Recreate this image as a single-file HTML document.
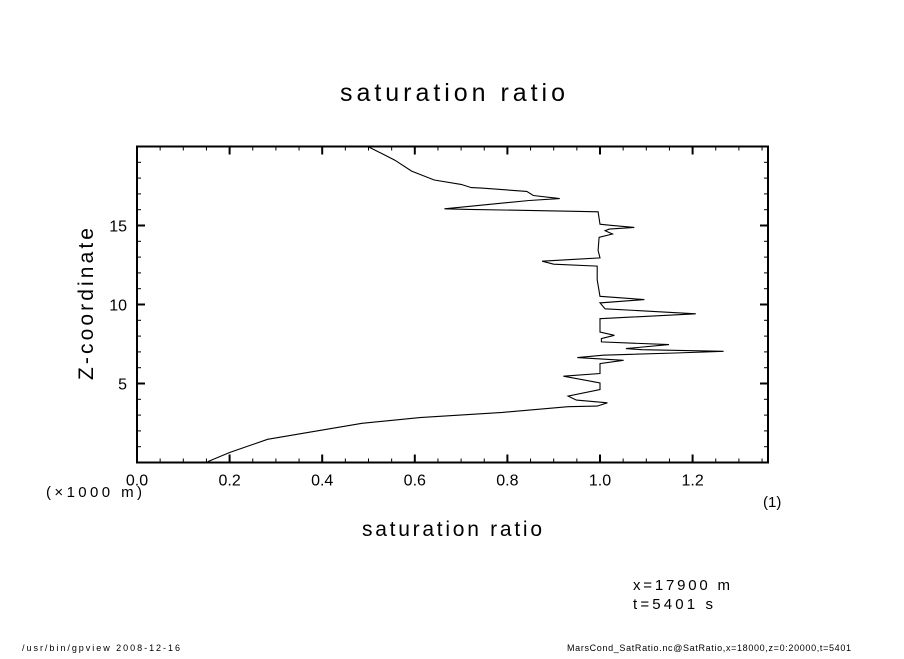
<!DOCTYPE html>
<html><head><meta charset="utf-8"><style>
body{margin:0;background:#fff;}
svg text{font-family:"Liberation Sans",sans-serif;fill:#000;}
</style></head><body>
<svg id="chart" width="904" height="654" viewBox="0 0 904 654" xmlns="http://www.w3.org/2000/svg">
<rect width="904" height="654" fill="#fff"/>
<text x="340" y="101" font-size="25" textLength="225" lengthAdjust="spacing">saturation ratio</text>
<g id="axes"></g>
<polyline id="profile" fill="none" stroke="#000" stroke-width="1.1"/>
<rect x="137" y="146.5" width="631" height="316" fill="none" stroke="#000" stroke-width="2"/>
<text x="362" y="536" font-size="21" textLength="180" lengthAdjust="spacing">saturation ratio</text>
<text transform="translate(93,380) rotate(-90)" font-size="21" textLength="152" lengthAdjust="spacing">Z-coordinate</text>
<text x="46" y="497" font-size="15" textLength="96" lengthAdjust="spacing">(×1000 m)</text>
<text x="763" y="507" font-size="15">(1)</text>
<text x="633" y="590" font-size="15" textLength="97" lengthAdjust="spacing">x=17900  m</text>
<text x="633" y="609" font-size="15" textLength="80" lengthAdjust="spacing">t=5401  s</text>
<text x="22" y="651" font-size="9" textLength="158" lengthAdjust="spacing">/usr/bin/gpview   2008-12-16</text>
<text x="567" y="651" font-size="9" textLength="284" lengthAdjust="spacing">MarsCond_SatRatio.nc@SatRatio,x=18000,z=0:20000,t=5401</text>
</svg>
<script>
const xTicks=[0,0.2,0.4,0.6,0.8,1.0,1.2];
const xTickLabels=["0.0","0.2","0.4","0.6","0.8","1.0","1.2"];
const yTicks=[5,10,15];
const yTickLabels=["5","10","15"];
const ratio=[0.501,0.522,0.557,0.593,0.642,0.70,0.722,0.744,0.842,0.856,0.913,0.847,0.664,0.718,0.945,0.996,1.0,1.02,1.074,1.02,1.011,1.027,0.998,0.996,1.0,0.936,0.875,0.9,0.994,0.994,1.0,1.096,1.0,1.011,1.207,1.0,1.0,1.031,1.003,1.003,1.149,1.056,1.091,1.267,1.163,1.007,0.951,1.051,1.0,1.0,0.921,1.0,1.0,0.931,0.949,1.016,0.994,0.931,0.789,0.611,0.486,0.379,0.282,0.2,0.153];
const height=[19.96,19.65,19.13,18.44,17.88,17.6,17.4,17.37,17.16,16.9,16.7,16.58,16.06,16.02,15.9,15.87,15.08,15.02,14.88,14.77,14.67,14.46,14.25,13.42,12.95,12.84,12.74,12.55,12.43,11.56,10.52,10.31,10.1,9.73,9.41,9.1,8.26,8.05,7.84,7.63,7.46,7.21,7.14,7.04,6.93,6.79,6.64,6.47,6.26,5.63,5.46,5.04,4.62,4.2,3.95,3.78,3.57,3.53,3.17,2.84,2.48,1.95,1.47,0.63,0.06];
const X0=137,X1=768,Y0=462.5,Y1=146.5,XMAX=(X1-X0)/463,ZMAX=20;
function sx(v){return X0+v/XMAX*(X1-X0);}
function sy(v){return Y0-v/ZMAX*(Y0-Y1);}
const NS="http://www.w3.org/2000/svg";
const g=document.getElementById('axes');
function line(x1,y1,x2,y2,w,name){const l=document.createElementNS(NS,'line');
l.setAttribute('x1',x1);l.setAttribute('y1',y1);l.setAttribute('x2',x2);l.setAttribute('y2',y2);
l.setAttribute('stroke','#000');l.setAttribute('stroke-width',w);


g.appendChild(l);}
for(let i=0;i*0.05<=XMAX+1e-9;i++){const v=i*0.05,x=sx(v),maj=i%4===0,L=maj?8:4;
line(x,Y0,x,Y0-L,maj?2:1,'x-tick');line(x,Y1,x,Y1+L,maj?2:1,'x-tick-top');}
for(let z=1;z<ZMAX;z++){const y=sy(z),maj=z%5===0,L=maj?8:4;
line(X0,y,X0+L,y,maj?2:1,'y-tick');line(X1,y,X1-L,y,maj?2:1,'y-tick-right');}
xTicks.forEach((v,i)=>{const t=document.createElementNS(NS,'text');
t.setAttribute('x',sx(v));t.setAttribute('y',Y0+23);t.setAttribute('font-size','16');t.setAttribute('text-anchor','middle');
t.textContent=xTickLabels[i];


g.appendChild(t);});
yTicks.forEach((v,i)=>{const t=document.createElementNS(NS,'text');
t.setAttribute('x',X0-10);t.setAttribute('y',sy(v)+6);t.setAttribute('font-size','16');t.setAttribute('text-anchor','end');
t.textContent=yTickLabels[i];


g.appendChild(t);});
document.getElementById('profile').setAttribute('points',ratio.map((r,i)=>sx(r).toFixed(1)+','+sy(height[i]).toFixed(1)).join(' '));
</script>
</body></html>
